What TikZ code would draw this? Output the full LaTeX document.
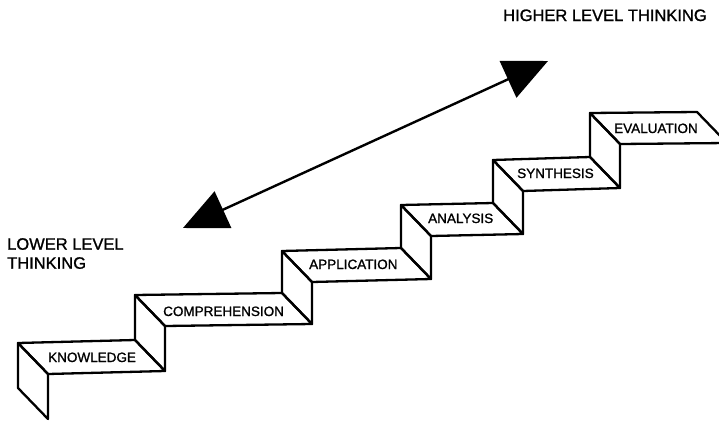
\documentclass[tikz,border=0pt]{standalone}
\usepackage{fontspec}
\setmainfont[FakeBold=1.2]{Liberation Sans}
\usetikzlibrary{arrows.meta}
\begin{document}
\begin{tikzpicture}[x=1pt,y=-1pt,
  edge/.style={line width=2.3pt, line join=round},
  steplabel/.style={inner sep=0pt, anchor=base west, font=\fontsize{13.5}{16}\selectfont},
  headlabel/.style={inner sep=0pt, font=\fontsize{16.5}{19}\selectfont, align=left},
  bigtip/.tip={Triangle[length=44pt,width=40pt]}]
\useasboundingbox (0,0) rectangle (719,423);
\clip (0,0) rectangle (719,423);
% back corners of the treads
\coordinate (b1) at (18,343);  \coordinate (c1) at (135,340);
\coordinate (b2) at (135,295); \coordinate (c2) at (282,293);
\coordinate (b3) at (282,251); \coordinate (c3) at (401,248);
\coordinate (b4) at (401,205); \coordinate (c4) at (493,203);
\coordinate (b5) at (493,160); \coordinate (c5) at (590,157);
\coordinate (b6) at (590,113); \coordinate (c6) at (697,112);
\coordinate (b0) at (18,388);
% front riser below the first tread
\draw[edge] (b1) -- (b0) -- ([shift={(30,31)}]b0) -- ([shift={(30,31)}]b1) -- cycle;
% treads
\foreach \i in {1,...,6}{
  \draw[edge] (b\i) -- (c\i) -- ([shift={(30,31)}]c\i) -- ([shift={(30,31)}]b\i) -- cycle;
}
% risers
\foreach \i/\j in {1/2,2/3,3/4,4/5,5/6}{
  \draw[edge] (c\i) -- (b\j) -- ([shift={(30,31)}]b\j) -- ([shift={(30,31)}]c\i) -- cycle;
}
% labels
\node[steplabel] (knowledge) at (48,362) {KNOWLEDGE};
\node[steplabel] (comprehension) at (163,316) {COMPREHENSION};
\node[steplabel] (application) at (309,269) {APPLICATION};
\node[steplabel] (analysis) at (428,223) {ANALYSIS};
\node[steplabel] (synthesis) at (517,178) {SYNTHESIS};
\node[steplabel] (evaluation) at (614,133) {EVALUATION};
\node[headlabel, anchor=base west] (higher) at (503,21) {HIGHER LEVEL THINKING};
\node[headlabel, anchor=north west] (lower) at (7,238) {LOWER LEVEL\\THINKING};
% double arrow
\coordinate (lo) at (183,228);
\coordinate (hi) at (548,61);
\draw[line width=2.4pt, bigtip-bigtip] (lo) -- (hi);
\end{tikzpicture}
\end{document}
